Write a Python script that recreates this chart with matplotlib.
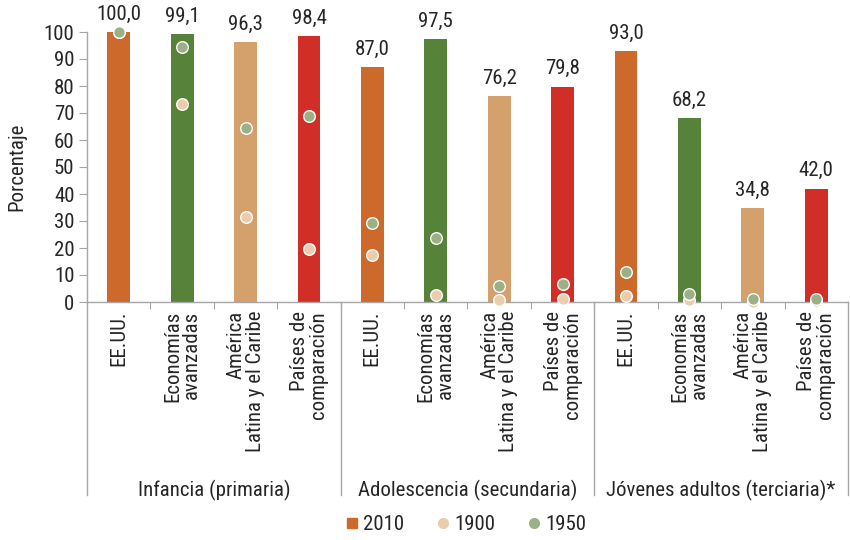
import matplotlib
matplotlib.use("Agg")
import matplotlib.pyplot as plt
import matplotlib.transforms as mtransforms
from matplotlib.lines import Line2D

plt.rcParams['font.family'] = ['Roboto Condensed', 'DejaVu Sans']

# Data
groups = ["Infancia (primaria)", "Adolescencia (secundaria)", "Jóvenes adultos (terciaria)*"]
regions = ["EE.UU.", "Economías\navanzadas", "América\nLatina y el Caribe", "Países de\ncomparación"]
values_2010 = [100.0, 99.1, 96.3, 98.4, 87.0, 97.5, 76.2, 79.8, 93.0, 68.2, 34.8, 42.0]
values_1900 = [100.0, 73.5, 31.5, 19.5, 17.5, 2.6, 0.7, 1.1, 2.2, 0.7, 0.1, 0.3]
values_1950 = [100.0, 94.5, 64.3, 68.8, 29.3, 23.7, 5.9, 6.7, 11.1, 3.1, 1.1, 1.1]

region_colors = ["#CD6A2B", "#56823A", "#D4A06B", "#D22E28"]
c1900 = "#EBCDAE"
c1950 = "#9CB087"
axis_grey = "#A6A6A6"
text_col = "#262626"
fs = 15

fig = plt.figure(figsize=(8.5, 5.4), dpi=100)
W, H = 850, 540
ax = fig.add_axes([87 / W, 238 / H, 761 / W, 270 / H])

n = len(values_2010)
x = list(range(n))
colors = [region_colors[i % 4] for i in x]

ax.bar(x, values_2010, width=0.36, color=colors, zorder=2, clip_on=False)
ax.scatter(x, values_1900, s=70, color=c1900, edgecolor="white", linewidth=1.0, zorder=3, clip_on=False)
ax.scatter(x, values_1950, s=70, color=c1950, edgecolor="white", linewidth=1.0, zorder=4, clip_on=False)

for xi, v in zip(x, values_2010):
    ax.annotate(f"{v:.1f}".replace(".", ","), (xi, v), xytext=(0, 6), textcoords="offset points",
                ha="center", va="bottom", fontsize=fs, color=text_col)

ax.set_xlim(-0.5, n - 0.5)
ax.set_ylim(0, 100)
ax.set_yticks(range(0, 101, 10))
ax.tick_params(axis="y", length=6, color=axis_grey, labelsize=fs, labelcolor=text_col, pad=3)
ax.set_xticks([i + 0.5 for i in range(n - 1)])
ax.set_xticklabels([])
ax.tick_params(axis="x", length=5, color=axis_grey)

for s in ["top", "right"]:
    ax.spines[s].set_visible(False)
for s in ["left", "bottom"]:
    ax.spines[s].set_color(axis_grey)
    ax.spines[s].set_linewidth(1.0)

trans = mtransforms.blended_transform_factory(ax.transData, ax.transAxes)
axh = 270.0

# Group separators below the axis
for xs in [-0.5, 3.5, 7.5, n - 0.5]:
    ax.add_line(Line2D([xs, xs], [0, -193 / axh], transform=trans, color=axis_grey,
                       linewidth=1.0, clip_on=False))

# Category labels
for xi in x:
    ax.text(xi, -9 / axh, regions[xi % 4], transform=trans, rotation=90, ha="center", va="top",
            multialignment="right", fontsize=fs, color=text_col, linespacing=1.0)

# Group labels
for g, name in enumerate(groups):
    ax.text(g * 4 + 1.5, -188 / axh, name, transform=trans, ha="center", va="center",
            fontsize=fs, color=text_col)

fig.text(17 / W, 1 - 167 / H, "Porcentaje", rotation=90, ha="center", va="center",
         fontsize=fs, color=text_col)

handles = [
    Line2D([], [], marker="s", linestyle="none", color=region_colors[0], markersize=7),
    Line2D([], [], marker="o", linestyle="none", color=c1900, markersize=7),
    Line2D([], [], marker="o", linestyle="none", color=c1950, markersize=7),
]
fig.legend(handles, ["2010", "1900", "1950"], loc="center", bbox_to_anchor=(466 / W, 1 - 525 / H),
           ncol=3, frameon=False, fontsize=fs, handlelength=0.6, handletextpad=0.2,
           columnspacing=1.6, labelcolor=text_col)

fig.savefig("out.png", dpi=100)
